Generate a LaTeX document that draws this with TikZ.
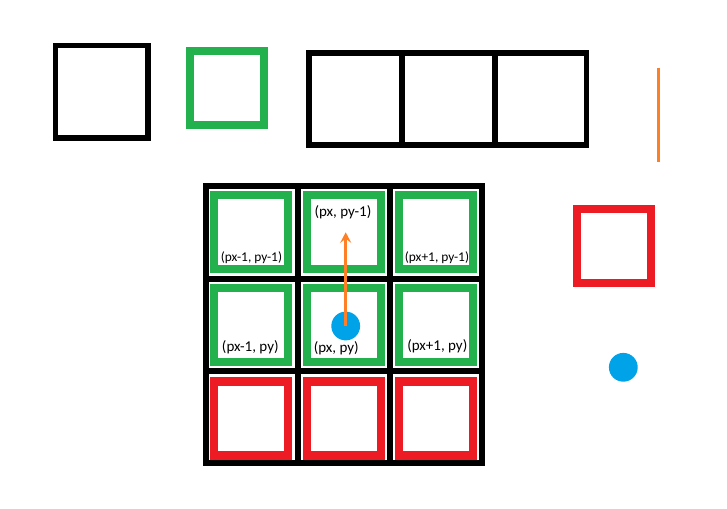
\documentclass[tikz,border=0pt]{standalone}
\usepackage{fontspec}
\setmainfont{Carlito}
\usetikzlibrary{arrows.meta}
\definecolor{pgreen}{HTML}{22B14C}
\definecolor{pred}{HTML}{ED1C24}
\definecolor{pblue}{HTML}{00A2E8}
\definecolor{porange}{HTML}{FF7F27}
\begin{document}
\begin{tikzpicture}[x=1pt,y=-1pt,
  bbox/.style={draw=black,line width=5.7pt,minimum size=92.5pt,inner sep=0pt},
  tbox/.style={draw=black,line width=5.5pt,minimum width=93pt,minimum height=92.2pt,inner sep=0pt},
  gbox/.style={draw=pgreen,line width=8pt,minimum size=74pt,inner sep=0pt},
  rbox/.style={draw=pred,line width=8.2pt,minimum size=74pt,inner sep=0pt},
  dot/.style={circle,fill=pblue,minimum size=28.8pt,inner sep=0pt},
  gridline/.style={draw=black,line width=6pt},
  lab/.style={font=\fontsize{15}{18}\selectfont,inner sep=0pt},
  slab/.style={font=\fontsize{13.4}{15}\selectfont,inner sep=0pt},
  move/.style={draw=porange,line width=3pt,-{Stealth[length=10.5pt,width=11pt,inset=4pt]}}]
\useasboundingbox (0,0) rectangle (727,508);
% legend row
\node[bbox] (wall) at (101.75,91.75) {};
\node[gbox] (free) at (226.85,88.2) {};
\node[tbox] (t1) at (355.3,98.9) {};
\node[tbox] (t2) at (448.3,98.9) {};
\node[tbox,minimum width=91.7pt] (t3) at (540.65,98.9) {};
\coordinate (o1) at (658.5,67.7);
\coordinate (o2) at (658.5,161.7);
\draw[draw=porange,line width=3pt] (o1) -- (o2);
\node[rbox] (blocked) at (613.85,246.35) {};
\node[dot] (player) at (623.3,367.3) {};
% grid
\draw[gridline] (206,186) rectangle (482,463);
\draw[gridline] (298,186) -- (298,463);
\draw[gridline] (390,186) -- (390,463);
\draw[gridline] (206,278.5) -- (482,278.5);
\draw[gridline] (206,371) -- (482,371);
\node[gbox] (c11) at (251,232) {};
\node[gbox] (c12) at (344,232) {};
\node[gbox] (c13) at (436,232) {};
\node[gbox] (c21) at (251,324.5) {};
\node[gbox] (c22) at (344,324.5) {};
\node[gbox] (c23) at (436,324.5) {};
\node[rbox] (c31) at (251,418.5) {};
\node[rbox] (c32) at (344,418.5) {};
\node[rbox] (c33) at (436,418.5) {};
% labels
\node[slab] (l11) at (251.5,257.5) {(px-1, py-1)};
\node[lab] (l12) at (343,212) {(px, py-1)};
\node[slab] (l13) at (437,257.5) {(px+1, py-1)};
\node[lab] (l21) at (250.3,347.3) {(px-1, py)};
\node[lab] (l22) at (336.3,348.3) {(px, py)};
\node[lab] (l23) at (437.3,346.7) {(px+1, py)};
% player and move
\node[dot] (p) at (345.7,326) {};
\coordinate (target) at (345.7,232.3);
\draw[move] (p.center) -- (target);
\end{tikzpicture}
\end{document}
